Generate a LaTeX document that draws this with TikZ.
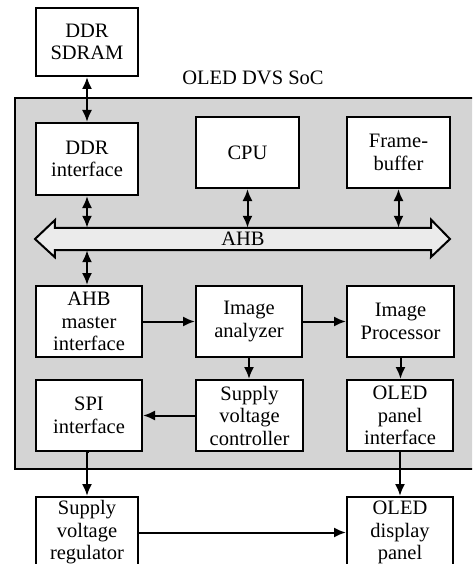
\documentclass[tikz,border=0pt]{standalone}
\usepackage{fontspec}
\setmainfont{Liberation Serif}
\usetikzlibrary{arrows.meta}
\definecolor{socgray}{HTML}{D4D4D4}
\definecolor{busgray}{HTML}{EBEBEB}
\begin{document}
\begin{tikzpicture}[x=1pt,y=-1pt,
  blk/.style={draw, line width=2pt, fill=white, align=center, inner sep=0pt,
    font=\fontsize{20.5}{22.5}\selectfont},
  conn/.style={line width=2pt, -{Latex[length=12pt,width=10pt]}},
  biconn/.style={line width=2pt, {Latex[length=12pt,width=10pt]}-{Latex[length=12pt,width=10pt]}}]
\useasboundingbox (0,0) rectangle (472,564);
\clip (0,0) rectangle (472,564);
% SoC background
\draw[line width=2pt, fill=socgray] (15,98) rectangle (480,469);
\node[font=\fontsize{20.5}{22.5}\selectfont] (soc) at (253,78) {OLED DVS SoC};
% blocks
\node[blk, minimum width=102pt, minimum height=68pt] (sdram) at (87,42) {DDR\\SDRAM};
\node[blk, minimum width=102pt, minimum height=72pt] (ddri) at (87,159) {DDR\\interface};
\node[blk, minimum width=103pt, minimum height=71pt] (cpu) at (247.5,152.5) {CPU};
\node[blk, minimum width=103pt, minimum height=71pt] (fb) at (398.5,152.5) {Frame-\\buffer};
\node[blk, minimum width=106pt, minimum height=71pt] (ahbm) at (89,321.5) {AHB\\master\\interface};
\node[blk, minimum width=106pt, minimum height=71pt] (ana) at (249,321.5) {Image\\analyzer};
\node[blk, minimum width=107pt, minimum height=71pt] (proc) at (400.5,321.5) {Image\\Processor};
\node[blk, minimum width=106pt, minimum height=71pt] (spi) at (89,415.5) {SPI\\interface};
\node[blk, minimum width=107pt, minimum height=71pt] (svc) at (249.5,415.5) {Supply\\voltage\\controller};
\node[blk, minimum width=106pt, minimum height=71pt] (opi) at (400,415.5) {OLED\\panel\\interface};
\node[blk, minimum width=102pt, minimum height=71pt] (reg) at (87,532.5) {Supply\\voltage\\regulator};
\node[blk, minimum width=106pt, minimum height=71pt] (disp) at (400,532.5) {OLED\\display\\panel};
% AHB bus
\node[minimum width=376pt, minimum height=22pt, inner sep=0pt] (ahb) at (243,239) {};
\draw[line width=2pt, fill=busgray]
  (ahb.north west) -- (ahb.north east) -- ++(0,-8) -- (450,239) -- (431,257)
  -- (ahb.south east) -- (ahb.south west) -- ++(0,7) -- (35,239) -- (55,220) -- cycle;
\node[font=\fontsize{20.5}{22.5}\selectfont] (ahbt) at (243,239) {AHB};
% connectors
\draw[biconn] (sdram.south) -- (ddri.north);
\draw[biconn] (ddri.south) -- (ddri.south |- ahb.north);
\draw[biconn] (cpu.south) -- (cpu.south |- ahb.north);
\draw[biconn] (fb.south) -- (fb.south |- ahb.north);
\draw[biconn] (ddri.south |- ahb.south) -- (ddri.south |- ahbm.north);
\draw[conn] (ahbm.east) -- (ana.west);
\draw[conn] (ana.east) -- (proc.west);
\draw[conn] (ana.south) -- (ana.south |- svc.north);
\draw[conn] (proc.south) -- (proc.south |- opi.north);
\draw[conn] (svc.west) -- (spi.east);
\draw[conn] (spi.south) -- (spi.south -| reg.north) -- (reg.north);
\draw[conn] (opi.south) -- (disp.north);
\draw[conn] (reg.east) -- (disp.west);
\end{tikzpicture}
\end{document}
